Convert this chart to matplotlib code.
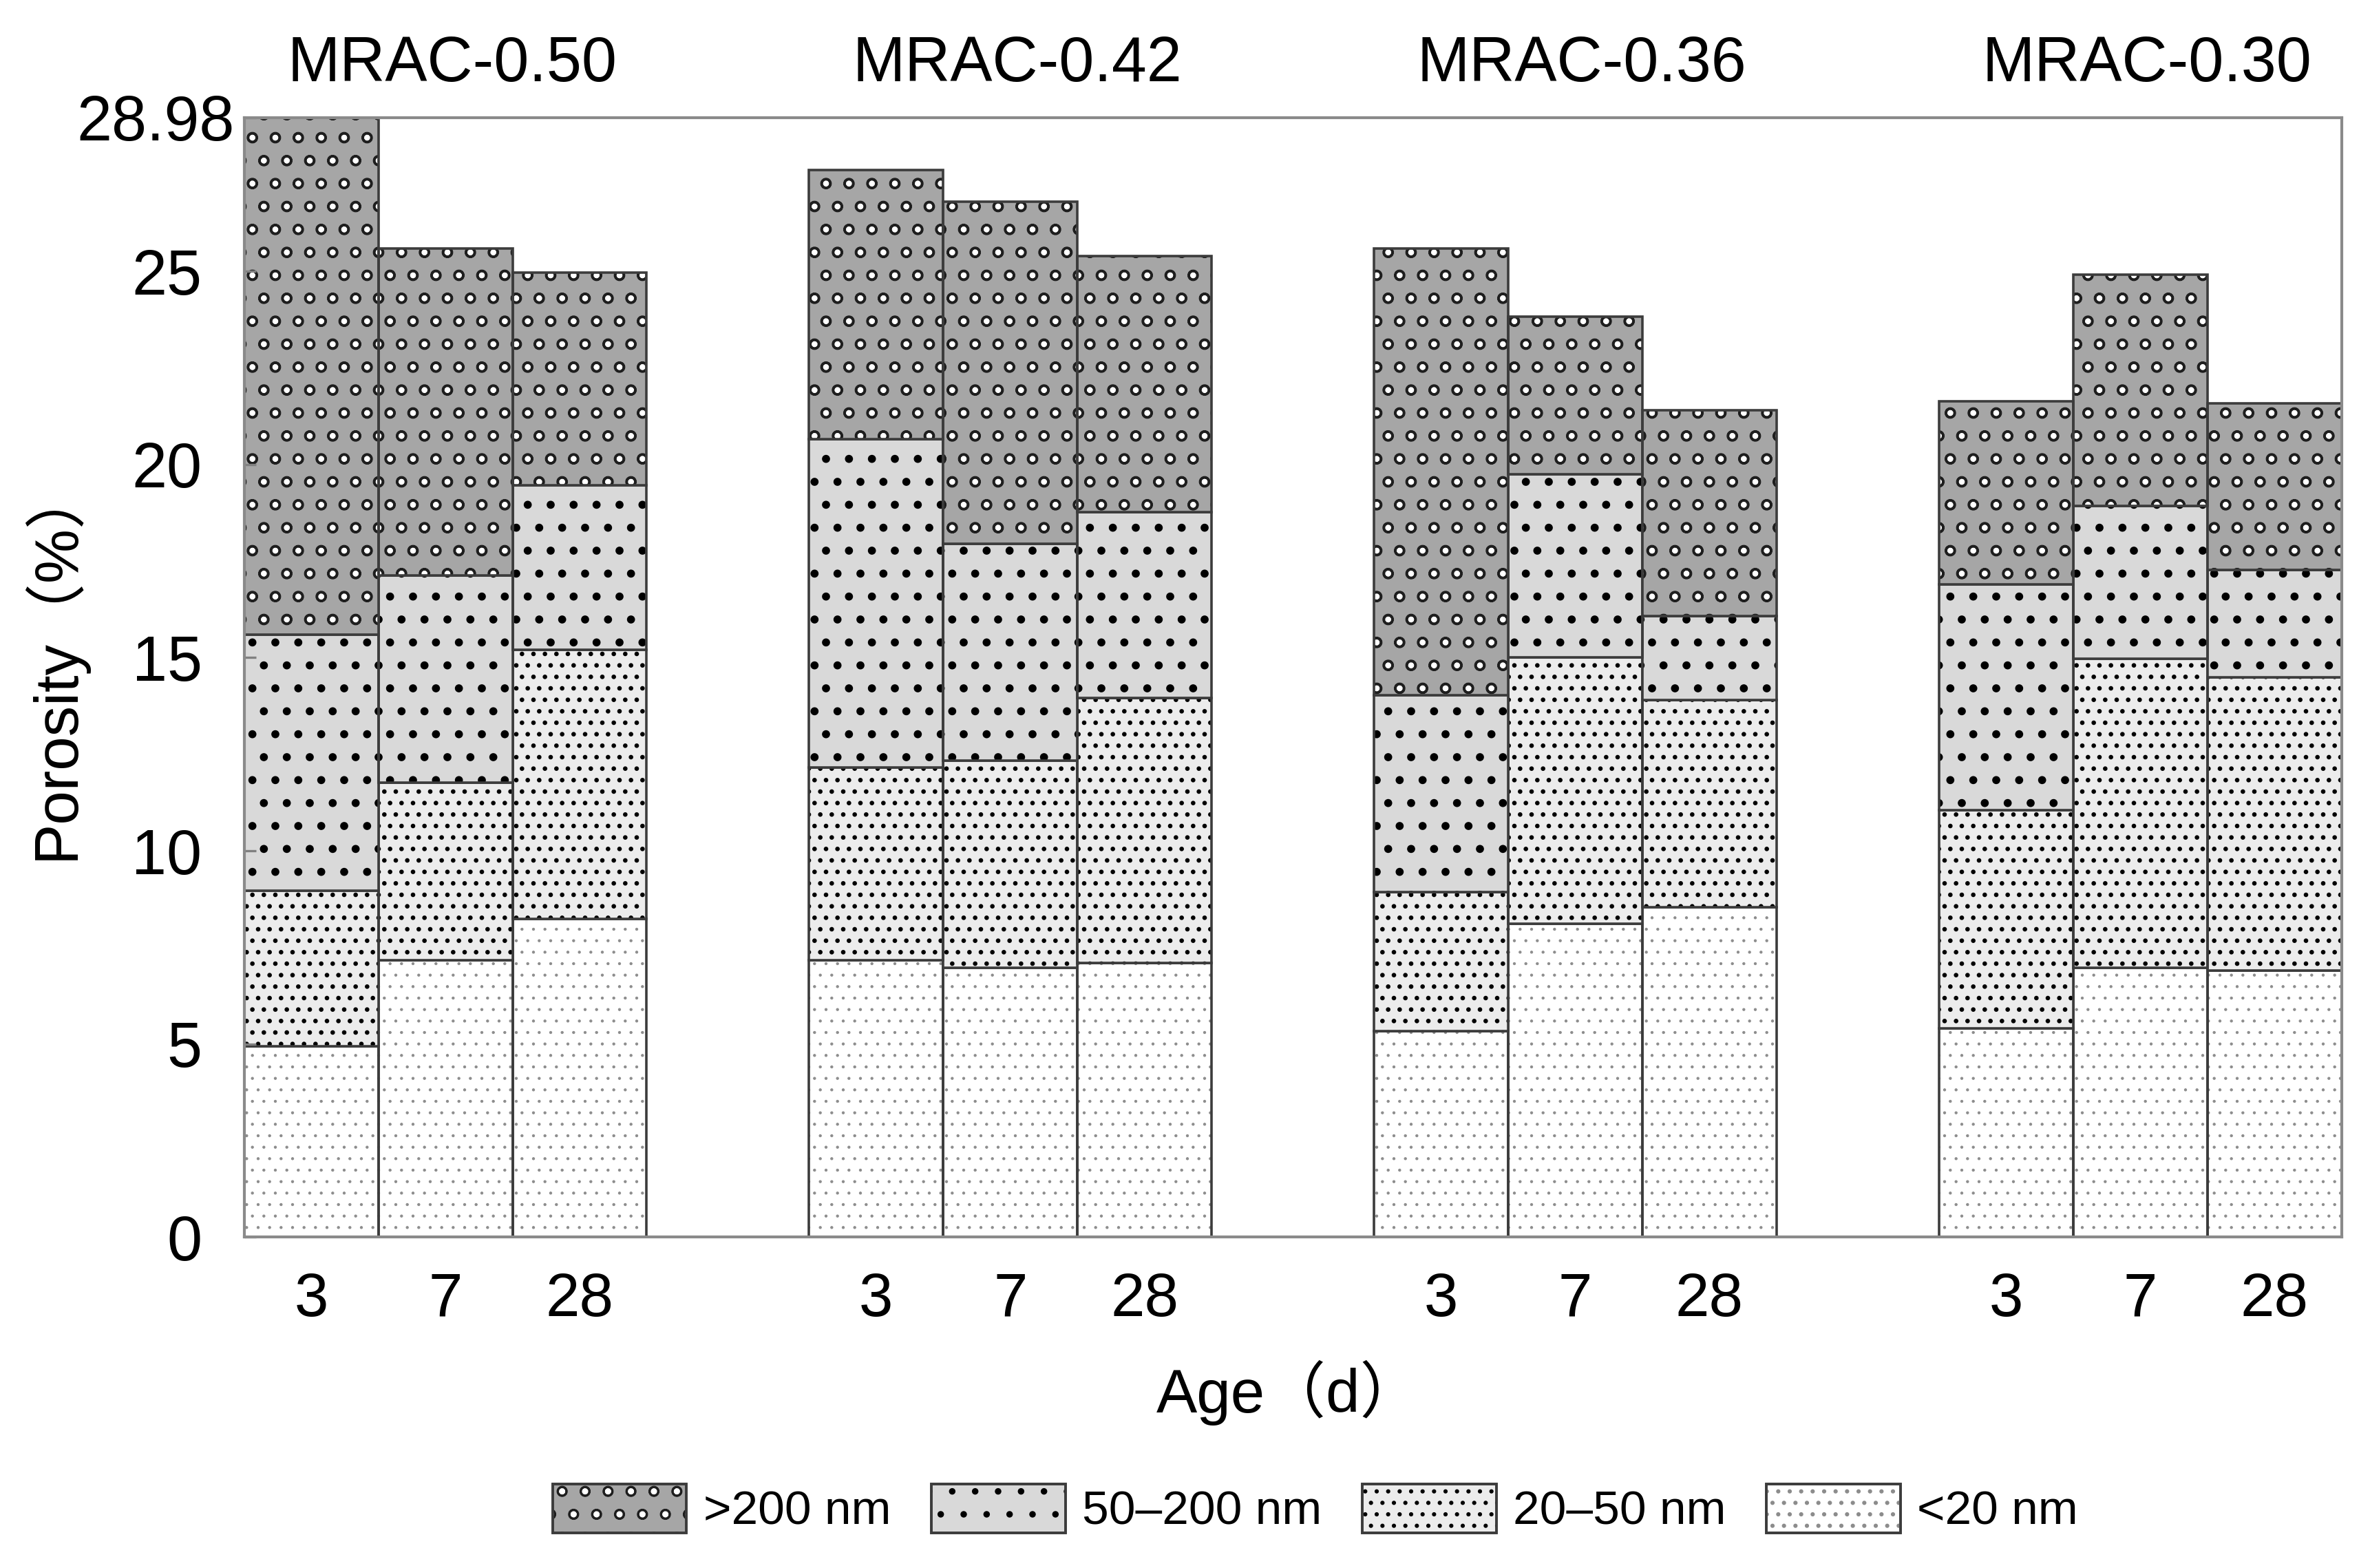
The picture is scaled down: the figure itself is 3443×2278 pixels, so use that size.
import matplotlib
matplotlib.use("Agg")
import matplotlib.pyplot as plt
import matplotlib.transforms as mtransforms
from matplotlib.patches import Patch
from matplotlib.legend_handler import HandlerTuple

plt.rcParams['font.family'] = ['Liberation Sans', 'Noto Sans CJK SC', 'DejaVu Sans']

# ---------- data ----------
groups = ["MRAC-0.50", "MRAC-0.42", "MRAC-0.36", "MRAC-0.30"]
ages = ["3", "7", "28"]
classes = [">200 nm", "50–200 nm", "20–50 nm", "<20 nm"]

# pore volume of each class (%), group by group, ages 3 / 7 / 28 d
lt20 = [4.94, 7.17, 8.23, 7.17, 6.97, 7.09, 5.33, 8.11, 8.54, 5.41, 6.97, 6.90]
p20_50 = [4.03, 4.59, 6.97, 4.98, 5.37, 6.86, 3.60, 6.89, 5.37, 5.64, 8.00, 7.60]
p50_200 = [6.63, 5.36, 4.27, 8.50, 5.61, 4.82, 5.10, 4.75, 2.16, 5.84, 3.96, 2.78]
gt200 = [13.38, 8.47, 5.49, 6.98, 8.85, 6.62, 11.56, 4.07, 5.33, 4.74, 5.99, 4.31]

yticks = [0, 5, 10, 15, 20, 25, 28.98]
ytick_labels = ["0", "5", "10", "15", "20", "25", "28.98"]

# ---------- layout ----------
group_step = 4.21
xs = [g * group_step + i + 0.5 for g in range(len(groups)) for i in range(len(ages))]

fig = plt.figure(figsize=(3443 / 200, 2278 / 200), dpi=200)
ax = fig.add_axes([0.103, 0.211, 0.885, 0.714])

# (values, face, hatch layers [(hatch, color, lw)]) from bottom to top
segments = [
    (lt20, "white", [("..", "#8c8c8c", 0.35)]),
    (p20_50, "#ececec", [("..", "black", 1.15)]),
    (p50_200, "#d9d9d9", [(".", "black", 1.8)]),
    (gt200, "#a6a6a6", [(".", "white", 2.6), ("o", "#1e1e1e", 1.2)]),
]
edge = "#3c3c3c"


def set_hlw(artist, lw):
    if hasattr(artist, "set_hatch_linewidth"):
        artist.set_hatch_linewidth(lw)


bottom = [0.0] * len(xs)
legend_handles = []
for vals, face, layers in segments:
    ax.bar(xs, vals, bottom=bottom, width=1.0, color=face, linewidth=0)
    for h, hc, hlw in layers:
        with plt.rc_context({"hatch.linewidth": hlw}):
            bars = ax.bar(xs, vals, bottom=bottom, width=1.0, fill=False,
                          hatch=h, edgecolor=hc, linewidth=0)
            for b in bars:
                set_hlw(b, hlw)
    ax.bar(xs, vals, bottom=bottom, width=1.0, fill=False,
           edgecolor=edge, linewidth=1.3)
    # legend patch (layers drawn on top of each other)
    parts = [Patch(facecolor=face, edgecolor=edge, linewidth=1.3)]
    for h, hc, hlw in layers:
        with plt.rc_context({"hatch.linewidth": hlw}):
            p = Patch(fill=False, hatch=h, edgecolor=hc, linewidth=0)
            set_hlw(p, hlw)
        parts.append(p)
    parts.append(Patch(fill=False, edgecolor=edge, linewidth=1.3))
    legend_handles.append(tuple(parts))
    bottom = [b + v for b, v in zip(bottom, vals)]

ax.set_xlim(0, group_step * 3 + 3)
ax.set_ylim(0, 28.98)
ax.set_yticks(yticks)
ax.set_yticklabels(ytick_labels)
ax.set_xticks(xs)
ax.set_xticklabels(ages * len(groups))
ax.tick_params(axis="x", length=0, pad=18, labelsize=32)
ax.tick_params(axis="y", direction="in", length=6, width=1.2, color="#808080",
               pad=22, labelsize=33)
# the top label sits closer to the axis
top_lbl = ax.get_yticklabels()[-1]
top_lbl.set_transform(top_lbl.get_transform() +
                      mtransforms.ScaledTranslation(17 / 72, 0, fig.dpi_scale_trans))
for s in ax.spines.values():
    s.set_color("#8a8a8a")
    s.set_linewidth(1.5)

for g, name in enumerate(groups):
    ax.text(g * group_step + 1.55, 1.047, name, transform=ax.get_xaxis_transform(),
            ha="center", va="center", fontsize=33)

ax.set_ylabel("Porosity（%）", fontsize=32)
ax.yaxis.set_label_coords(-0.075, 0.515)
ax.set_xlabel("Age（d）", fontsize=32)
ax.xaxis.set_label_coords(0.498, -0.110)

# ---------- legend ----------
leg = fig.legend(legend_handles[::-1], classes, loc="center",
                 bbox_to_anchor=(0.555, 0.0376),
                 ncol=4, frameon=False, fontsize=25,
                 handler_map={tuple: HandlerTuple(ndivide=1, pad=0)},
                 handlelength=2.8, handleheight=1.2, columnspacing=0.85,
                 handletextpad=0.35)

fig.savefig("out.png", dpi=200)
